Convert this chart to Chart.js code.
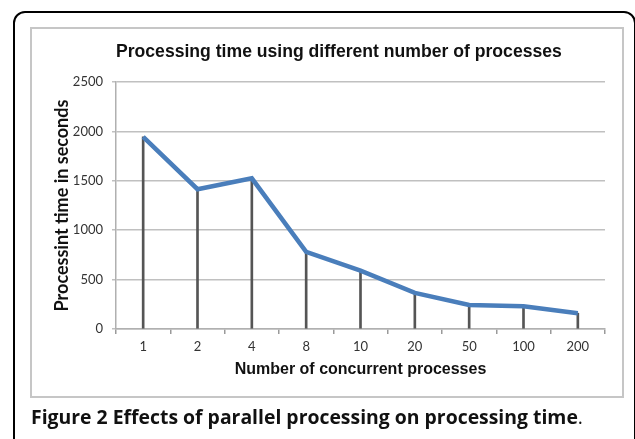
<!DOCTYPE html>
<html>
<head>
<meta charset="utf-8">
<script src="https://cdn.jsdelivr.net/npm/chart.js@4.4.1/dist/chart.umd.min.js"></script>
<style>
  html, body { margin: 0; padding: 0; background: #ffffff; }
  body { width: 635px; height: 439px; position: relative; overflow: hidden; }
  #outer { position: absolute; left: 13px; top: 11px; width: 623px; height: 520px; box-sizing: border-box;
           border: 2px solid #000; border-radius: 12px; }
  #inner { position: absolute; left: 30px; top: 27px; width: 594px; height: 371px; box-sizing: border-box;
           border: 2px solid #c6c6c6; }
  #chart { position: absolute; left: 31px; top: 0px; }
  #caption { position: absolute; left: 31px; top: 403px; font-family: "Open Sans", sans-serif; font-size: 19.4px;
             color: #111; white-space: nowrap; font-weight: 700; }
  #caption .dot { font-weight: 400; }
</style>
</head>
<body>
<div id="outer"></div>
<div id="inner"></div>
<canvas id="chart" width="604" height="439"></canvas>
<div id="caption">Figure 2 Effects of parallel processing on processing time<span class="dot">.</span></div>
<script>
const categories = ['1', '2', '4', '8', '10', '20', '50', '100', '200'];
const processingTimes = [1945, 1415, 1525, 780, 590, 365, 243, 230, 160];
const chartTitle = 'Processing time using different number of processes';
const xAxisTitle = 'Number of concurrent processes';
const yAxisTitle = 'Processint time in seconds';

new Chart(document.getElementById('chart'), {
  data: {
    labels: categories,
    datasets: [
      {
        type: 'line',
        data: processingTimes,
        borderColor: '#4a7ebb',
        borderWidth: 4.5,
        pointRadius: 0,
        tension: 0,
        fill: false,
        order: 0
      },
      {
        type: 'bar',
        data: processingTimes,
        backgroundColor: '#555555',
        borderWidth: 0,
        barThickness: 2,
        order: 1
      }
    ]
  },
  options: {
    responsive: false,
    animation: false,
    devicePixelRatio: 1,
    layout: { padding: { left: 0, right: 30, top: 0, bottom: 0 } },
    plugins: {
      legend: { display: false },
      tooltip: { enabled: false },
      title: {
        display: true,
        fullSize: false,
        align: 'start',
        text: chartTitle,
        color: '#111',
        font: { family: '"Liberation Sans", Arial, sans-serif', size: 17.6, weight: 'bold', lineHeight: 1.2 },
        padding: { top: 41.4, bottom: 19.5 }
      }
    },
    scales: {
      x: {
        type: 'category',
        offset: true,
        grid: { display: true, drawOnChartArea: false, offset: true, tickLength: 5, color: '#9a9a9a', lineWidth: 1.5 },
        border: { display: true, color: '#b0b0b0', width: 1.5 },
        ticks: { color: '#333', padding: 5, font: { family: 'Lato, sans-serif', size: 13 }, maxRotation: 0 },
        title: {
          display: true,
          text: xAxisTitle,
          color: '#111',
          font: { family: '"Liberation Sans", Arial, sans-serif', size: 16, weight: 'bold', lineHeight: 1.2 },
          padding: { top: 4, bottom: 59.4 }
        },
        afterFit: (s) => { s.height = 110; }
      },
      y: {
        min: 0,
        max: 2500,
        ticks: {
          stepSize: 500,
          color: '#333',
          padding: 9,
          font: { family: 'Lato, sans-serif', size: 13 },
          callback: (v) => String(v)
        },
        grid: { color: '#c0c0c0', lineWidth: 1.5, tickLength: 4 },
        border: { display: true, color: '#b0b0b0', width: 1.5 },
        title: {
          display: true,
          text: yAxisTitle,
          color: '#111',
          font: { family: 'Lato, sans-serif', size: 18, weight: 'bold', lineHeight: 1.2 },
          padding: { top: 20, bottom: 0 }
        },
        afterFit: (s) => { s.width = 85; }
      }
    }
  }
});
</script>
</body>
</html>
